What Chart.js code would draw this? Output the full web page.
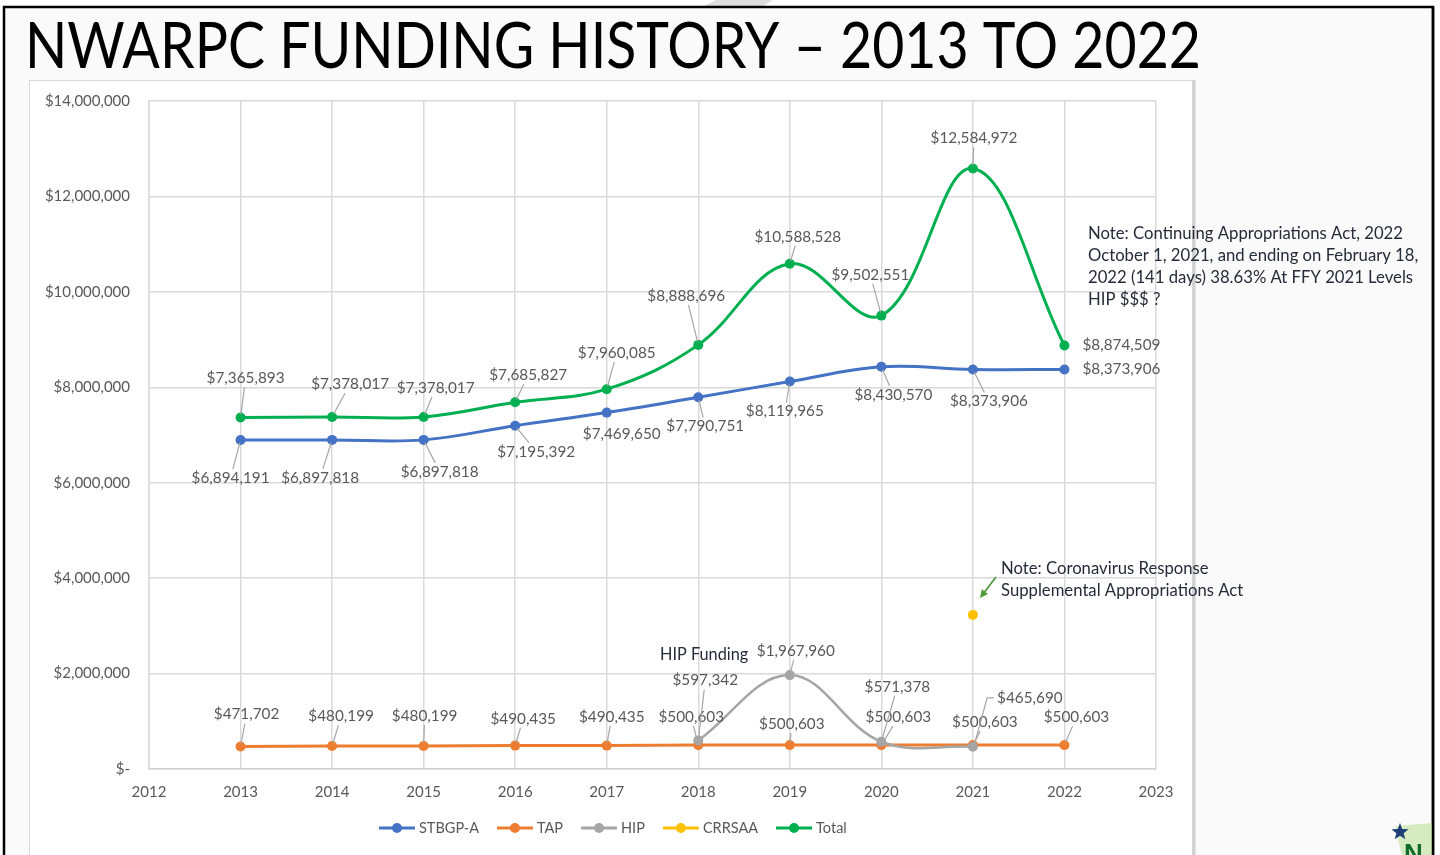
<!DOCTYPE html>
<html>
<head>
<meta charset="utf-8">
<script src="https://cdn.jsdelivr.net/npm/chart.js@4.4.1/dist/chart.umd.min.js"></script>
<style>
html,body{margin:0;padding:0;background:#ffffff;}
#wrap{position:relative;width:1440px;height:855px;overflow:hidden;}
canvas{display:block;}
</style>
</head>
<body>
<div id="wrap"><canvas id="c" width="1440" height="855"></canvas></div>
<script>
// ---------------- DATA ----------------
const titleText = 'NWARPC FUNDING HISTORY \u2013 2013 TO 2022';
const years = [2013, 2014, 2015, 2016, 2017, 2018, 2019, 2020, 2021, 2022];
const stbgpA = [6894191, 6897818, 6897818, 7195392, 7469650, 7790751, 8119965, 8430570, 8373906, 8373906];
const tap = [471702, 480199, 480199, 490435, 490435, 500603, 500603, 500603, 500603, 500603];
const hipYears = [2018, 2019, 2020, 2021];
const hip = [597342, 1967960, 571378, 465690];
const crrsaaYears = [2021];
const crrsaa = [3230000];
const total = [7365893, 7378017, 7378017, 7685827, 7960085, 8888696, 10588528, 9502551, 12584972, 8874509];
const seriesNames = ['STBGP-A', 'TAP', 'HIP', 'CRRSAA', 'Total'];
const xAxisMin = 2012, xAxisMax = 2023;
const yAxisMax = 14000000, yAxisStep = 2000000;
const note1Lines = ['Note: Continuing Appropriations Act, 2022', 'October 1, 2021, and ending on February 18,', '2022 (141 days) 38.63% At FFY 2021 Levels', 'HIP $$$ ?'];
const note2Lines = ['Note: Coronavirus Response', 'Supplemental Appropriations Act'];
const hipNote = 'HIP Funding';

// ---------------- STYLE / LAYOUT ----------------
const colors = ['#4472C4', '#ED7D31', '#A5A5A5', '#FFC000', '#00B050'];
// label offsets: [dx, dy, leader?] text centre relative to the data point (px)
const labelOffsets = {
  0: [[-10, 38, 1], [-12, 38, 1], [16, 32, 1], [21, 26, 1], [15, 21, 0], [7, 29, 1], [-5, 30, 1], [12, 28, 1], [16, 32, 1], [57, 0, 0]],
  1: [[6, -32, 1], [9, -30, 1], [1, -30, 1], [8, -27, 1], [5, -29, 1], [-7, -28, 1], [2, -21, 1], [17, -28, 1], [12, -23, 1], [12, -28, 1]],
  2: [[7, -60, 1], [6, -24, 1], [16, -55, 1], [57, -49, 2]],
  4: [[5, -39, 1], [18, -33, 1], [12, -29, 1], [13, -27, 1], [10, -36, 1], [-12, -49, 1], [8, -27, 1], [-11, -41, 1], [1, -30, 1], [57, 0, 0]]
};
const fontFam = 'Lato, "Liberation Sans", sans-serif';
const labelFont = '15.3px ' + fontFam;
const noteFont = '16.7px ' + fontFam;
const noteColor = '#242c38';

function money(v) {
  return v === 0 ? '$-' : '$' + Math.round(v).toLocaleString('en-US');
}
function pts(xs, ys) { return xs.map((x, i) => ({ x: x, y: ys[i] })); }

const seriesData = [pts(years, stbgpA), pts(years, tap), pts(hipYears, hip), pts(crrsaaYears, crrsaa), pts(years, total)];

const datasets = seriesNames.map((name, i) => ({
  label: name,
  data: seriesData[i],
  borderColor: colors[i],
  backgroundColor: colors[i],
  pointBackgroundColor: colors[i],
  pointBorderColor: colors[i],
  pointRadius: 5,
  pointBorderWidth: 0,
  borderWidth: i === 2 ? 2.5 : 3,
  tension: 0.38,
  fill: false,
  order: [4, 3, 2, 1, 0][i]
}));

// ---------------- PLUGINS ----------------
const backdrop = {
  id: 'backdrop',
  beforeDraw(chart) {
    const ctx = chart.ctx;
    ctx.save();
    ctx.fillStyle = '#ffffff';
    ctx.fillRect(0, 0, 1440, 855);
    ctx.fillStyle = '#dedede';
    ctx.beginPath();
    ctx.moveTo(716, 0); ctx.lineTo(773, 0); ctx.lineTo(760, 8); ctx.lineTo(700, 8); ctx.closePath();
    ctx.fill();
    ctx.fillStyle = '#fafafa';
    ctx.fillRect(4, 7, 1429, 848);
    ctx.strokeStyle = '#000000';
    ctx.lineWidth = 2.5;
    ctx.beginPath();
    ctx.moveTo(4, 855); ctx.lineTo(4, 7); ctx.lineTo(1433, 7); ctx.lineTo(1433, 855);
    ctx.stroke();
    ctx.fillStyle = '#ffffff';
    ctx.fillRect(29, 80, 1164, 790);
    ctx.strokeStyle = '#d9d9d9';
    ctx.lineWidth = 1;
    ctx.strokeRect(29.5, 80.5, 1163, 790);
    ctx.strokeStyle = '#d0d0d0';
    ctx.lineWidth = 3;
    ctx.beginPath(); ctx.moveTo(1194, 80); ctx.lineTo(1194, 855); ctx.stroke();
    // title
    ctx.fillStyle = '#000000';
    ctx.font = '400 64px ' + fontFam;
    ctx.textBaseline = 'alphabetic';
    ctx.textAlign = 'left';
    const w = ctx.measureText(titleText).width;
    ctx.translate(25, 68);
    ctx.scale(1176 / w, 1);
    ctx.fillText(titleText, 0, 0);
    ctx.restore();
  }
};

const annotations = {
  id: 'annotations',
  afterDatasetsDraw(chart) {
    const ctx = chart.ctx;
    ctx.save();
    ctx.font = labelFont;
    ctx.textAlign = 'center';
    ctx.textBaseline = 'middle';
    const hBox = 16;
    Object.keys(labelOffsets).forEach(k => {
      const di = +k;
      const meta = chart.getDatasetMeta(di);
      const data = chart.data.datasets[di].data;
      meta.data.forEach((el, j) => {
        const off = labelOffsets[di][j];
        if (!off) return;
        const txt = money(data[j].y);
        const cx = el.x + off[0], cy = el.y + off[1];
        const w = ctx.measureText(txt).width;
        ctx.strokeStyle = '#a6a6a6';
        ctx.lineWidth = 1.2;
        if (off[2] === 1) {
          const dx = el.x - cx, dy = el.y - cy;
          const hx = w / 2 + 2, hy = hBox / 2 + 1;
          const t = Math.min(dx !== 0 ? hx / Math.abs(dx) : Infinity, dy !== 0 ? hy / Math.abs(dy) : Infinity);
          if (t < 1) {
            const sx = cx + dx * t, sy = cy + dy * t;
            const d = Math.hypot(dx, dy);
            const ex = el.x - (dx / d) * 3, ey = el.y - (dy / d) * 3;
            ctx.beginPath(); ctx.moveTo(sx, sy); ctx.lineTo(ex, ey); ctx.stroke();
          }
        } else if (off[2] === 2) {
          // elbow leader from left side of label
          const lx = cx - w / 2 - 3;
          ctx.beginPath();
          ctx.moveTo(lx, cy); ctx.lineTo(lx - 7, cy); ctx.lineTo(el.x + 2, el.y - 4);
          ctx.stroke();
        }
        ctx.fillStyle = '#595959';
        ctx.fillText(txt, cx, cy);
      });
    });

    // notes
    ctx.textAlign = 'left';
    ctx.fillStyle = noteColor;
    ctx.font = noteFont;
    note1Lines.forEach((l, i) => ctx.fillText(l, 1088, 234 + i * 21.8));
    note2Lines.forEach((l, i) => ctx.fillText(l, 1001, 569 + i * 22));
    ctx.font = '16.3px ' + fontFam;
    ctx.fillText(hipNote, 660, 655);

    // green arrow to CRRSAA point
    const ax1 = 996, ay1 = 577, ax2 = 980, ay2 = 598;
    ctx.strokeStyle = '#4f9a3a';
    ctx.fillStyle = '#4f9a3a';
    ctx.lineWidth = 1.8;
    ctx.beginPath(); ctx.moveTo(ax1, ay1); ctx.lineTo(ax2 + 3, ay2 - 4); ctx.stroke();
    const ang = Math.atan2(ay2 - ay1, ax2 - ax1);
    ctx.beginPath();
    ctx.moveTo(ax2, ay2);
    ctx.lineTo(ax2 - 9 * Math.cos(ang - 0.45), ay2 - 9 * Math.sin(ang - 0.45));
    ctx.lineTo(ax2 - 9 * Math.cos(ang + 0.45), ay2 - 9 * Math.sin(ang + 0.45));
    ctx.closePath(); ctx.fill();

    // legend
    ctx.font = '14.5px ' + fontFam;
    ctx.textBaseline = 'middle';
    const ly = 828, lineLen = 36, gapTxt = 4, gapItem = 18;
    let totalW = 0;
    const widths = seriesNames.map(n => ctx.measureText(n).width);
    widths.forEach(w => totalW += lineLen + gapTxt + w);
    totalW += gapItem * (seriesNames.length - 1);
    let x = 379;
    seriesNames.forEach((n, i) => {
      ctx.strokeStyle = colors[i];
      ctx.lineWidth = 3;
      ctx.beginPath(); ctx.moveTo(x, ly); ctx.lineTo(x + lineLen, ly); ctx.stroke();
      ctx.fillStyle = colors[i];
      ctx.beginPath(); ctx.arc(x + lineLen / 2, ly, 5, 0, Math.PI * 2); ctx.fill();
      ctx.fillStyle = '#595959';
      ctx.fillText(n, x + lineLen + gapTxt, ly);
      x += lineLen + gapTxt + widths[i] + gapItem;
    });

    // logo corner
    ctx.fillStyle = '#d6ebc0';
    ctx.beginPath();
    ctx.moveTo(1396, 826); ctx.lineTo(1432, 823); ctx.lineTo(1432, 855); ctx.lineTo(1402, 855); ctx.lineTo(1398, 840); ctx.closePath();
    ctx.fill();
    ctx.fillStyle = '#0f6b2a';
    ctx.font = 'bold 26px "Liberation Sans", sans-serif';
    ctx.textBaseline = 'alphabetic';
    ctx.fillText('N', 1404, 862);
    ctx.fillStyle = '#1c3f7a';
    ctx.beginPath();
    const sx0 = 1400, sy0 = 832, R = 9, r = 3.8;
    for (let i = 0; i < 10; i++) {
      const a = -Math.PI / 2 + i * Math.PI / 5;
      const rr = i % 2 === 0 ? R : r;
      const px = sx0 + rr * Math.cos(a), py = sy0 + rr * Math.sin(a);
      if (i === 0) ctx.moveTo(px, py); else ctx.lineTo(px, py);
    }
    ctx.closePath(); ctx.fill();
    ctx.strokeStyle = '#000'; ctx.lineWidth = 2.5;
    ctx.beginPath(); ctx.moveTo(1433, 7); ctx.lineTo(1433, 855); ctx.stroke();
    ctx.restore();
  }
};

// ---------------- CHART ----------------
new Chart(document.getElementById('c'), {
  type: 'line',
  data: { datasets: datasets },
  options: {
    responsive: false,
    animation: false,
    events: [],
    layout: { padding: { left: 0, right: 284, top: 101, bottom: 0 } },
    plugins: { legend: { display: false }, title: { display: false }, tooltip: { enabled: false } },
    scales: {
      x: {
        type: 'linear',
        min: xAxisMin, max: xAxisMax,
        afterFit(s) { s.height = 86; },
        ticks: {
          stepSize: 1,
          padding: 14,
          color: '#595959',
          font: { family: fontFam, size: 15 },
          callback: v => String(v)
        },
        grid: { color: '#d9d9d9', lineWidth: 1.5, drawTicks: false },
        border: { color: '#d0d0d0', width: 1.5 }
      },
      y: {
        min: 0, max: yAxisMax,
        afterFit(s) { s.width = 149; },
        ticks: {
          stepSize: yAxisStep,
          padding: 19,
          color: '#595959',
          font: { family: fontFam, size: 15 },
          callback: v => money(v)
        },
        grid: { color: '#d9d9d9', lineWidth: 1.5, drawTicks: false },
        border: { color: '#d9d9d9', width: 1.5 }
      }
    }
  },
  plugins: [backdrop, annotations]
});
</script>
</body>
</html>
